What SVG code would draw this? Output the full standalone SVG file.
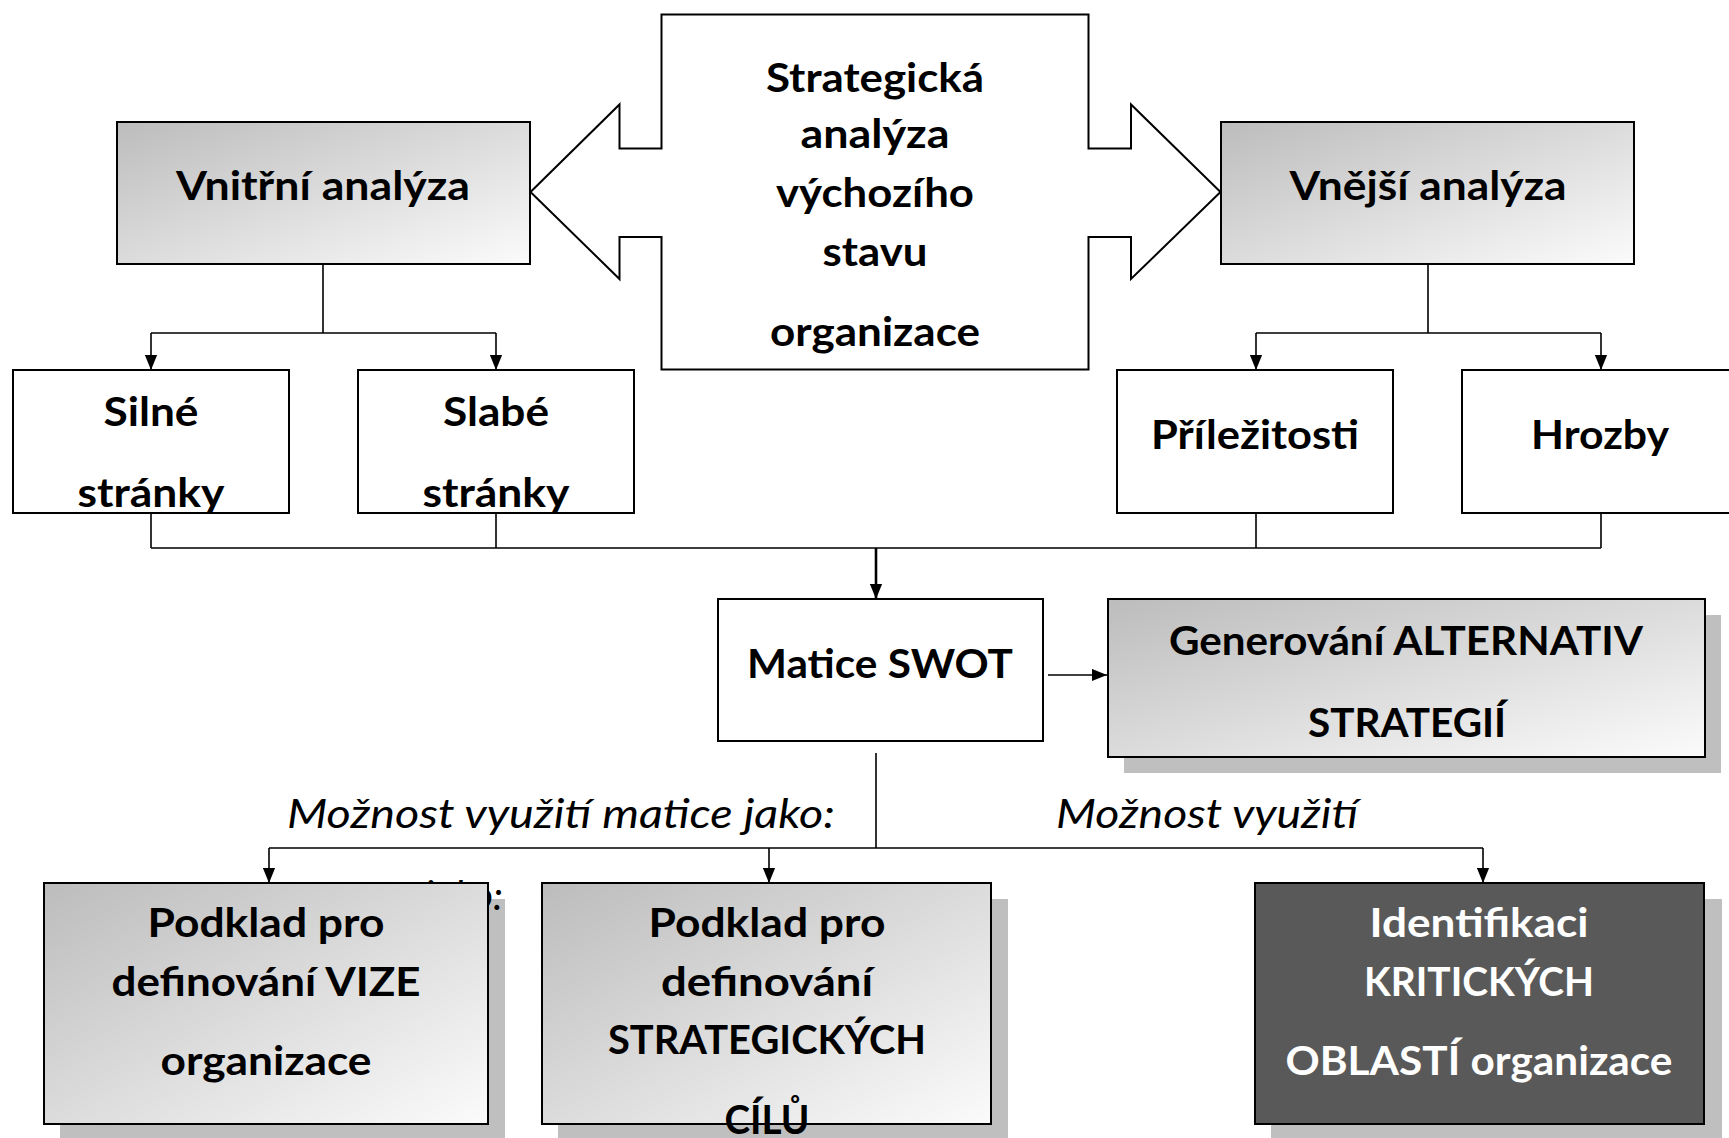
<svg xmlns="http://www.w3.org/2000/svg" width="1729" height="1138" viewBox="0 0 1729 1138">
<style>
.t{font-family:Lato,"Open Sans","Liberation Sans",sans-serif;font-weight:700;font-size:40px;text-anchor:middle;fill:#000}
.w{fill:#fff}
.it{font-family:Lato,"Open Sans","Liberation Sans",sans-serif;font-style:italic;font-weight:400;font-size:40px;fill:#000}
.box{stroke:#000;stroke-width:2}
.plain{fill:#fff}
.grad{fill:url(#g)}
.dark{fill:#595959}
.sh{fill:#bfbfbf}
.c{fill:none;stroke:#000;stroke-width:1.6}
.ca{fill:none;stroke:#000;stroke-width:1.6;marker-end:url(#ah)}
</style>
<defs>
<linearGradient id="g" x1="0" y1="0" x2="1" y2="1">
<stop offset="0" stop-color="#bcbcbc"/>
<stop offset="1" stop-color="#fbfbfb"/>
</linearGradient>
<marker id="ah" markerUnits="userSpaceOnUse" markerWidth="15" markerHeight="13" refX="16" refY="6.5" orient="auto" viewBox="0 0 16 13">
<path d="M0,0 L16,6.5 L0,13 Z" fill="#000"/>
</marker>
</defs>
<rect width="1729" height="1138" fill="#fff"/>

<g id="connectors">
<path class="c" d="M323,264 V333 M151,333 H496"/>
<path class="ca" d="M151,333 V370"/>
<path class="ca" d="M496,333 V370"/>
<path class="c" d="M1428,264 V333 M1256,333 H1601"/>
<path class="ca" d="M1256,333 V370"/>
<path class="ca" d="M1601,333 V370"/>
<path class="c" d="M151,513 V548 M496,513 V548 M1256,513 V548 M1601,513 V548 M151,548 H1601"/>
<path class="ca" style="stroke-width:2.6" d="M876,548 V599"/>
<path class="ca" d="M1048,675 H1107"/>
<path class="c" d="M876,753 V848 M269,848 H1483"/>
<path class="ca" d="M269,848 V883"/>
<path class="ca" d="M769,848 V883"/>
<path class="ca" d="M1483,848 V883"/>
</g>

<g id="strategicka">
<polygon class="box plain" points="530.5,192 619.5,104.5 619.5,148.5 661.5,148.5 661.5,14.5 1088.5,14.5 1088.5,148.5 1131,148.5 1131,104.5 1220.5,192 1131,279 1131,237 1088.5,237 1088.5,369.5 661.5,369.5 661.5,237 619.5,237 619.5,279"/>
<text class="t" x="875" y="92" textLength="218" lengthAdjust="spacingAndGlyphs">Strategická</text>
<text class="t" x="875" y="148" textLength="149" lengthAdjust="spacingAndGlyphs">analýza</text>
<text class="t" x="875" y="207" textLength="198" lengthAdjust="spacingAndGlyphs">výchozího</text>
<text class="t" x="875" y="266" textLength="105" lengthAdjust="spacingAndGlyphs">stavu</text>
<text class="t" x="875" y="346" textLength="210" lengthAdjust="spacingAndGlyphs">organizace</text>
</g>

<g id="vnitrni">
<rect class="box grad" x="117" y="122" width="413" height="142"/>
<text class="t" x="323" y="200" textLength="294" lengthAdjust="spacingAndGlyphs">Vnitřní analýza</text>
</g>

<g id="vnejsi">
<rect class="box grad" x="1221" y="122" width="413" height="142"/>
<text class="t" x="1428" y="200" textLength="277" lengthAdjust="spacingAndGlyphs">Vnější analýza</text>
</g>

<g id="silne">
<rect class="box plain" x="13" y="370" width="276" height="143"/>
<text class="t" x="151" y="426" textLength="95" lengthAdjust="spacingAndGlyphs">Silné</text>
<text class="t" x="151" y="507" textLength="147" lengthAdjust="spacingAndGlyphs">stránky</text>
</g>

<g id="slabe">
<rect class="box plain" x="358" y="370" width="276" height="143"/>
<text class="t" x="496" y="426" textLength="106" lengthAdjust="spacingAndGlyphs">Slabé</text>
<text class="t" x="496" y="507" textLength="147" lengthAdjust="spacingAndGlyphs">stránky</text>
</g>

<g id="prilezitosti">
<rect class="box plain" x="1117" y="370" width="276" height="143"/>
<text class="t" x="1255" y="449" textLength="208" lengthAdjust="spacingAndGlyphs">Příležitosti</text>
</g>

<g id="hrozby">
<rect class="box plain" x="1462" y="370" width="280" height="143"/>
<text class="t" x="1600" y="449" textLength="138" lengthAdjust="spacingAndGlyphs">Hrozby</text>
</g>

<g id="swot">
<rect class="box plain" x="718" y="599" width="325" height="142"/>
<text class="t" x="880" y="678" textLength="266" lengthAdjust="spacingAndGlyphs">Matice SWOT</text>
</g>

<g id="generovani">
<rect class="sh" x="1124" y="615" width="597" height="158"/>
<rect class="box grad" x="1108" y="599" width="597" height="158"/>
<text class="t" x="1406" y="655" textLength="474" lengthAdjust="spacingAndGlyphs">Generování ALTERNATIV</text>
<text class="t" x="1407" y="737" textLength="198" lengthAdjust="spacingAndGlyphs">STRATEGIÍ</text>
</g>

<g id="labels">
<text class="it" x="287" y="828" textLength="548" lengthAdjust="spacingAndGlyphs">Možnost využití matice jako:</text>
<text class="it" x="1056" y="828" textLength="302" lengthAdjust="spacingAndGlyphs">Možnost využití</text>
</g>

<g id="vize">
<rect class="sh" x="60" y="899" width="445" height="245"/>
<text class="it" x="503" y="910" style="text-anchor:end">jako:</text>
<rect class="box grad" x="44" y="883" width="444" height="241"/>
<text class="t" x="266" y="937" textLength="237" lengthAdjust="spacingAndGlyphs">Podklad pro</text>
<text class="t" x="266" y="996" textLength="309" lengthAdjust="spacingAndGlyphs">definování VIZE</text>
<text class="t" x="266" y="1075" textLength="211" lengthAdjust="spacingAndGlyphs">organizace</text>
</g>

<g id="cile">
<rect class="sh" x="558" y="899" width="450" height="245"/>
<rect class="box grad" x="542" y="883" width="449" height="241"/>
<text class="t" x="767" y="937" textLength="237" lengthAdjust="spacingAndGlyphs">Podklad pro</text>
<text class="t" x="767" y="996" textLength="212" lengthAdjust="spacingAndGlyphs">definování</text>
<text class="t" x="767" y="1054" textLength="318" lengthAdjust="spacingAndGlyphs">STRATEGICKÝCH</text>
<text class="t" x="767" y="1134" textLength="85" lengthAdjust="spacingAndGlyphs">CÍLŮ</text>
</g>

<g id="kriticke">
<rect class="sh" x="1271" y="899" width="451" height="245"/>
<rect class="box dark" x="1255" y="883" width="449" height="241"/>
<text class="t w" x="1479" y="937" textLength="219" lengthAdjust="spacingAndGlyphs">Identifikaci</text>
<text class="t w" x="1479" y="996" textLength="230" lengthAdjust="spacingAndGlyphs">KRITICKÝCH</text>
<text class="t w" x="1479" y="1075" textLength="387" lengthAdjust="spacingAndGlyphs">OBLASTÍ organizace</text>
</g>
</svg>
